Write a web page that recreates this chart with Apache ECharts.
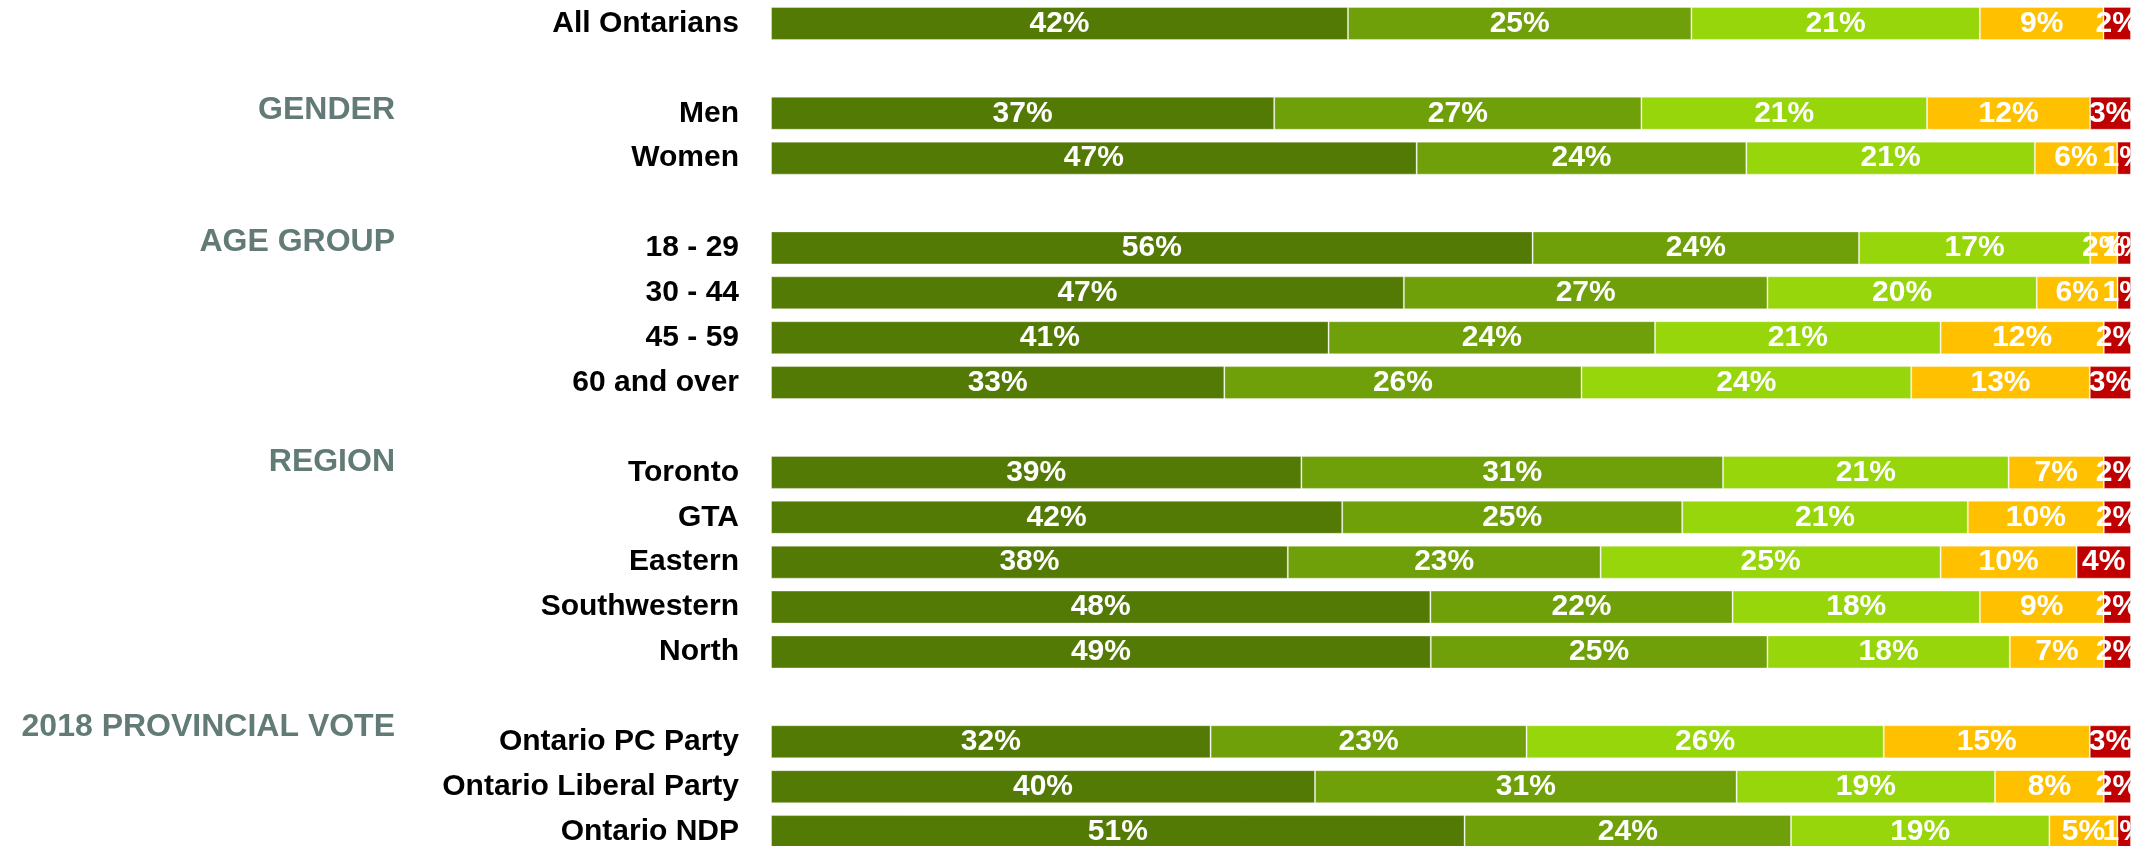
<!DOCTYPE html>
<html>
<head>
<meta charset="utf-8">
<script src="https://cdn.jsdelivr.net/npm/echarts@6/dist/echarts.min.js"></script>
<style>
  html, body { margin: 0; padding: 0; background: #ffffff; overflow: hidden; }
  #chart { width: 2131px; height: 900px; overflow: hidden; }
</style>
</head>
<body>
<div id="chart"></div>
<script>
// Row categories (empty strings are spacer rows between groups)
const categories = ['All Ontarians', '', 'Men', 'Women', '', '18 - 29', '30 - 44', '45 - 59', '60 and over', '',
  'Toronto', 'GTA', 'Eastern', 'Southwestern', 'North', '', 'Ontario PC Party', 'Ontario Liberal Party', 'Ontario NDP'];

// Group headers aligned to the same rows
const groupHeaders = ['', '', 'GENDER', '', '', 'AGE GROUP', '', '', '', '', 'REGION', '', '', '', '', '', '2018 PROVINCIAL VOTE', '', ''];

// Series values (percent), null for spacer rows
const seriesNames = ['Response 1', 'Response 2', 'Response 3', 'Response 4', 'Response 5'];
const values1 = [42, null, 37, 47, null, 56, 47, 41, 33, null, 39, 42, 38, 48, 49, null, 32, 40, 51];
const values2 = [25, null, 27, 24, null, 24, 27, 24, 26, null, 31, 25, 23, 22, 25, null, 23, 31, 24];
const values3 = [21, null, 21, 21, null, 17, 20, 21, 24, null, 21, 21, 25, 18, 18, null, 26, 19, 19];
const values4 = [9, null, 12, 6, null, 2, 6, 12, 13, null, 7, 10, 10, 9, 7, null, 15, 8, 5];
const values5 = [2, null, 3, 1, null, 1, 1, 2, 3, null, 2, 2, 4, 2, 2, null, 3, 2, 1];

const colors = ['#547a06', '#6fa00a', '#96d60a', '#ffc000', '#c00000'];

const raw = [values1, values2, values3, values4, values5];
const rowTotals = categories.map((c, i) => raw.reduce((s, arr) => s + (arr[i] || 0), 0));

const series = raw.map((arr, k) => ({
  name: seriesNames[k],
  type: 'bar',
  stack: 'total',
  xAxisIndex: 0,
  yAxisIndex: 0,
  barWidth: 33,
  itemStyle: { color: colors[k], borderColor: 'rgba(255,255,255,0.35)', borderWidth: 1 },
  label: {
    show: true,
    position: 'inside',
    color: '#ffffff',
    fontFamily: 'Liberation Sans, Arial, sans-serif',
    fontWeight: 'bold',
    fontSize: 30,
    formatter: p => (arr[p.dataIndex] == null ? '' : arr[p.dataIndex] + '%')
  },
  data: arr.map((v, i) => v == null ? '-' : (v / rowTotals[i]) * 100),
  silent: true,
  animation: false
}));

series.push({
  type: 'bar',
  xAxisIndex: 1,
  yAxisIndex: 1,
  data: groupHeaders.map(() => '-'),
  silent: true,
  animation: false
});

const chart = echarts.init(document.getElementById('chart'), null, { renderer: 'canvas' });
chart.setOption({
  animation: false,
  backgroundColor: '#ffffff',
  grid: [
    { left: 771, right: 0, top: 1, height: 853, containLabel: false },
    { left: 400, width: 10, top: -1, height: 838, containLabel: false }
  ],
  xAxis: [
    { type: 'value', gridIndex: 0, min: 0, max: 100, show: false },
    { type: 'value', gridIndex: 1, min: 0, max: 100, show: false }
  ],
  yAxis: [
    {
      type: 'category', gridIndex: 0, inverse: true, data: categories,
      axisLine: { show: false }, axisTick: { show: false }, splitLine: { show: false },
      axisLabel: {
        margin: 32, color: '#000000', fontFamily: 'Liberation Sans, Arial, sans-serif',
        fontWeight: 'bold', fontSize: 30, interval: 0
      }
    },
    {
      type: 'category', gridIndex: 1, inverse: true, data: groupHeaders,
      axisLine: { show: false }, axisTick: { show: false }, splitLine: { show: false },
      axisLabel: {
        margin: 5, color: '#627b76', fontFamily: 'Liberation Sans, Arial, sans-serif',
        fontWeight: 'bold', fontSize: 32, interval: 0
      }
    }
  ],
  series: series
});
</script>
</body>
</html>
